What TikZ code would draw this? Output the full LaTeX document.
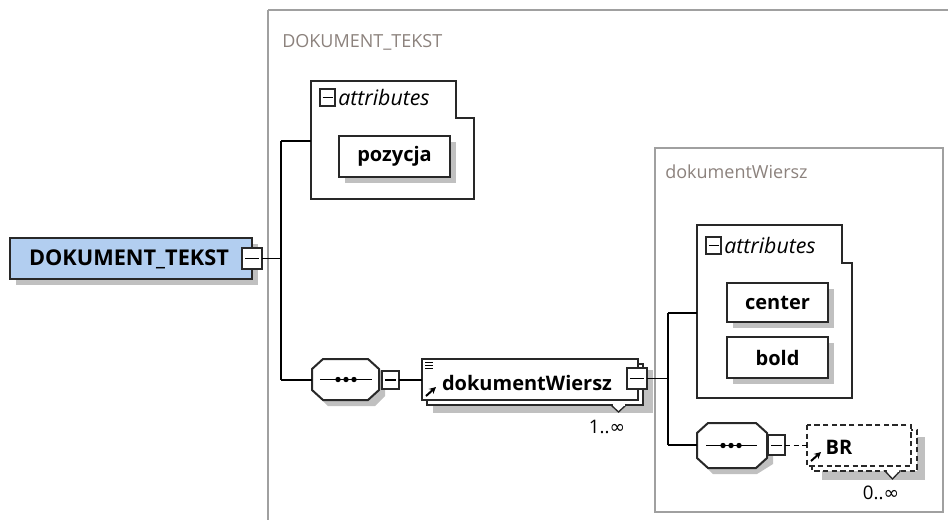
\documentclass[tikz,border=0pt]{standalone}
\usepackage{fontspec}
\setmainfont{Open Sans}
\newfontfamily\symfont{DejaVu Sans}
\usetikzlibrary{arrows.meta}
\definecolor{rootblue}{RGB}{178,206,240}
\definecolor{framegray}{RGB}{160,160,160}
\definecolor{labelgray}{RGB}{140,130,125}
\definecolor{edge}{RGB}{40,40,40}
\definecolor{shade}{RGB}{192,192,192}
\newcommand{\infsym}{{\symfont ∞}}
\tikzset{
  boxline/.style={draw=edge, line width=1.5pt},
  conn/.style={draw=black, line width=1pt},
  shadow/.style={fill=shade, draw=none},
  frame/.style={draw=framegray, line width=1pt},
  framelabel/.style={anchor=west, inner sep=0pt, text=labelgray, font=\fontsize{13.5}{16}\selectfont},
  boldlabel/.style={inner sep=0pt, font=\fontsize{15}{18}\selectfont\bfseries},
  attrlabel/.style={anchor=west, inner sep=0pt, font=\fontsize{16}{19}\selectfont\itshape},
  occ/.style={inner sep=0pt, font=\fontsize{14}{17}\selectfont},
  minusbox/.style={boxline, fill=white, line width=1.3pt},
}
\begin{document}
\begin{tikzpicture}[x=0.75pt,y=-0.75pt]
\useasboundingbox (0,0) rectangle (948,519);
\fill[white] (0,0) rectangle (948,519);

% outer frame
\draw[frame] (268,10) -- (960,10);
\draw[frame] (268,10) -- (268,530);
\node[framelabel] (outerlbl) at (282,42) {DOKUMENT\_TEKST};

% inner frame
\draw[frame] (655,148) rectangle (943,512);
\node[framelabel] (innerlbl) at (665,172) {dokumentWiersz};

% root node
\fill[shadow] (16,244) rectangle (258,285);
\node[boxline, fill=rootblue, minimum width=242*0.75pt, minimum height=41*0.75pt, inner sep=0pt] (root) at (131,258.5) {};
\node[inner sep=0pt, font=\fontsize{16.3}{19}\selectfont\bfseries] (roottxt) at (129,259) {DOKUMENT\_TEKST};
\draw[minusbox] (242,248) rectangle (262,269);
\draw[line width=1pt] (245,258.5) -- (259,258.5);
\coordinate (rootm) at (262,258.5);
\coordinate (j1) at (281,258.5);
\coordinate (j1t) at (281,141);
\coordinate (j1b) at (281,380);
\draw[conn] (rootm) -- (j1);
\draw[conn] (j1t) -- (j1b);

% attributes box 1
\draw[boxline, fill=white] (311,81) -- (456,81) -- (456,118) -- (474,118) -- (474,199) -- (311,199) -- cycle;
\coordinate (attr1) at (311,141);
\draw[conn] (j1t) -- (attr1);
\draw[minusbox] (320,89) rectangle (335,106);
\draw[line width=1pt] (322.5,97.5) -- (332.5,97.5);
\node[attrlabel] (attr1txt) at (338,97) {attributes};
\fill[shadow] (345,142) rectangle (456,183);
\node[boxline, fill=white, minimum width=111*0.75pt, minimum height=41*0.75pt, inner sep=0pt, font=\fontsize{15}{18}\selectfont\bfseries] (pozycja) at (394.5,156.5) {pozycja};

% sequence 1
\fill[shadow] (328,365) -- (375,365) -- (385,375) -- (385,396) -- (375,406) -- (328,406) -- (318,396) -- (318,375) -- cycle;
\draw[boxline, fill=white] (323,359) -- (368,359) -- (379,369) -- (379,390) -- (368,400) -- (323,400) -- (312,390) -- (312,369) -- cycle;
\coordinate (seq1l) at (312,380);
\draw[conn] (j1b) -- (seq1l);
\draw[line width=1.1pt] (320,379.5) -- (372,379.5);
\foreach \xx in {338,346,354} \fill (\xx,379.5) circle (2.7);
\draw[minusbox] (382,371) rectangle (399,389);
\draw[line width=1pt] (385,380) -- (396,380);
\coordinate (seq1m) at (399,380);

% dokumentWiersz element
\fill[shadow] (433,370) rectangle (653,413);
\draw[boxline, fill=white] (427,364) rectangle (643,405);
\draw[boxline, fill=white] (422,359) rectangle (638,400);
\coordinate (dwl) at (422,380);
\draw[conn] (seq1m) -- (dwl);
\draw[line width=0.9pt] (425,362.5) -- (433,362.5) (425,365.5) -- (433,365.5) (425,368.5) -- (433,368.5);
\draw[line width=1.5pt, -{Stealth[length=5pt,width=5pt]}] (426,396) -- (436,387);
\node[boldlabel] (dwtxt) at (527,383) {dokumentWiersz};
\draw[boxline, fill=white, line width=1pt] (611,405) -- (626,405) -- (618.5,412) -- cycle;
\draw[white, line width=1.5pt] (612.5,405) -- (624.5,405);
\node[occ] (dwocc) at (607,427) {1..\infsym};
\draw[minusbox] (627,368) rectangle (647,389);
\draw[line width=1pt] (630,378.5) -- (644,378.5);
\coordinate (dwm) at (647,378.5);
\coordinate (j2) at (668,378.5);
\coordinate (j2t) at (668,313);
\coordinate (j2b) at (668,445);
\draw[conn] (dwm) -- (j2);
\draw[conn] (j2t) -- (j2b);

% attributes box 2
\draw[boxline, fill=white] (697,225) -- (842,225) -- (842,263) -- (852,263) -- (852,398) -- (697,398) -- cycle;
\coordinate (attr2) at (697,313);
\draw[conn] (j2t) -- (attr2);
\draw[minusbox] (706,237) rectangle (721,254);
\draw[line width=1pt] (708.5,245.5) -- (718.5,245.5);
\node[attrlabel] (attr2txt) at (724,245) {attributes};
\fill[shadow] (733,289) rectangle (834,328);
\node[boxline, fill=white, minimum width=101*0.75pt, minimum height=39*0.75pt, inner sep=0pt, font=\fontsize{15}{18}\selectfont\bfseries] (center) at (777.5,302.5) {center};
\fill[shadow] (733,343) rectangle (834,384);
\node[boxline, fill=white, minimum width=101*0.75pt, minimum height=41*0.75pt, inner sep=0pt, font=\fontsize{15}{18}\selectfont\bfseries] (bold) at (777.5,357.5) {bold};

% sequence 2
\fill[shadow] (713,429) -- (757,429) -- (773,439) -- (773,464) -- (757,474) -- (713,474) -- (703,464) -- (703,439) -- cycle;
\draw[boxline, fill=white] (708,423) -- (756,423) -- (767,433) -- (767,458) -- (756,468) -- (708,468) -- (697,458) -- (697,433) -- cycle;
\coordinate (seq2l) at (697,445);
\draw[conn] (j2b) -- (seq2l);
\draw[line width=1.1pt] (706,445.5) -- (757,445.5);
\foreach \xx in {723,731,739} \fill (\xx,445.5) circle (2.7);
\draw[minusbox] (768,435) rectangle (785,455);
\draw[line width=1pt] (771,445.5) -- (782,445.5);
\coordinate (seq2m) at (785,445.5);

% BR element
\fill[shadow] (822,437) rectangle (925,480);
\draw[draw=edge, line width=1.3pt, dash pattern=on 4pt off 2.5pt, fill=white] (812,430) rectangle (917,471);
\draw[draw=edge, line width=1.3pt, dash pattern=on 4pt off 2.5pt, fill=white] (807,425) rectangle (911,466);
\coordinate (brl) at (807,445.5);
\draw[conn, dash pattern=on 4pt off 2.5pt] (seq2m) -- (brl);
\draw[line width=1.5pt, -{Stealth[length=5pt,width=5pt]}] (811,461) -- (821,452);
\node[boldlabel] (brtxt) at (839,447) {BR};
\draw[boxline, fill=white, line width=1pt] (885,471) -- (900,471) -- (892.5,479) -- cycle;
\draw[white, line width=1.5pt] (886.5,471) -- (898.5,471);
\node[occ] (brocc) at (881,493) {0..\infsym};
\end{tikzpicture}
\end{document}
